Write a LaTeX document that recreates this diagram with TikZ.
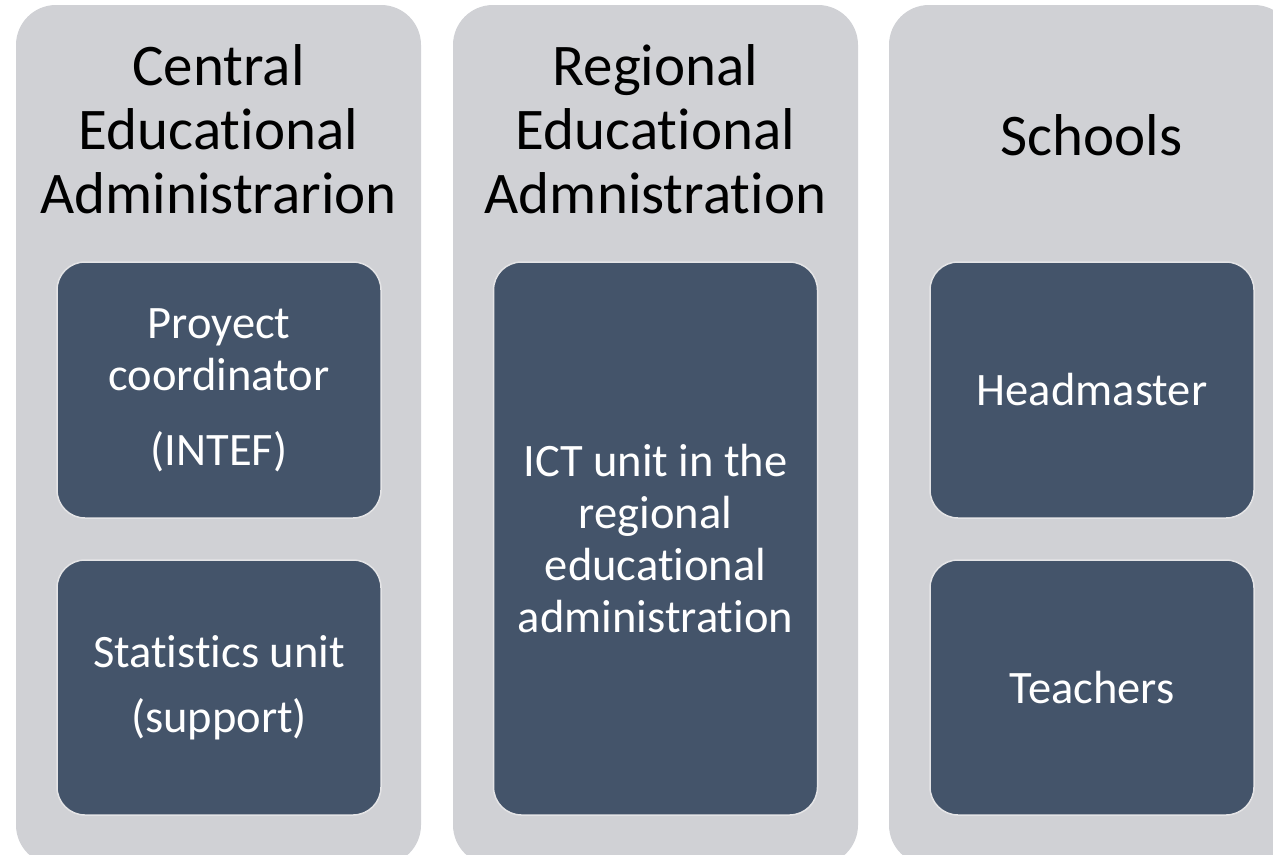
\documentclass[tikz,border=0pt]{standalone}
\usepackage{fontspec}
\setmainfont{Carlito}[Ligatures={NoCommon,NoRequired,NoContextual}]
\usepackage{tikz}
\definecolor{panelgray}{RGB}{208,209,213}
\definecolor{boxblue}{RGB}{68,84,106}
\definecolor{boxline}{RGB}{228,228,230}

\begin{document}
\begin{tikzpicture}[x=1pt,y=-1pt]
\clip (0,0) rectangle (1273,854);
\begin{scope}[every node/.style={align=center,inner sep=0pt},
              panel/.style={fill=panelgray,rounded corners=40pt,minimum width=405pt,minimum height=860pt},
              title/.style={text=black,font=\fontsize{59}{64}\selectfont},
              unit/.style={fill=boxblue,draw=boxline,line width=1.5pt,rounded corners=28pt,
                           text=white,font=\fontsize{46.5}{52}\selectfont,minimum width=324pt}]
    % columns
    \node[panel] (central) at (218.5,435) {};
    \node[panel] (regional) at (655.5,435) {};
    \node[panel] (schools) at (1091.5,435) {};
    % headings
    \node[title] (centraltitle) at (218.5,129) {Central\\Educational\\Administrarion};
    \node[title] (regionaltitle) at (655.5,129) {Regional\\Educational\\Admnistration};
    \node[title] (schoolstitle) at (1091.5,135) {Schools};
    % units
    \node[unit,minimum height=256pt] (proyect) at (219,390) {Proyect\\coordinator\\[23pt](INTEF)};
    \node[unit,minimum height=255pt] (stats) at (219,687.5) {Statistics unit\\[13pt](support)};
    \node[unit,minimum height=553pt] (ict) at (655.5,538.5) {ICT unit in the\\regional\\educational\\administration};
    \node[unit,minimum height=256pt] (head) at (1092,390) {Headmaster};
    \node[unit,minimum height=255pt] (teachers) at (1092,687.5) {Teachers};
\end{scope}
\end{tikzpicture}
\end{document}
